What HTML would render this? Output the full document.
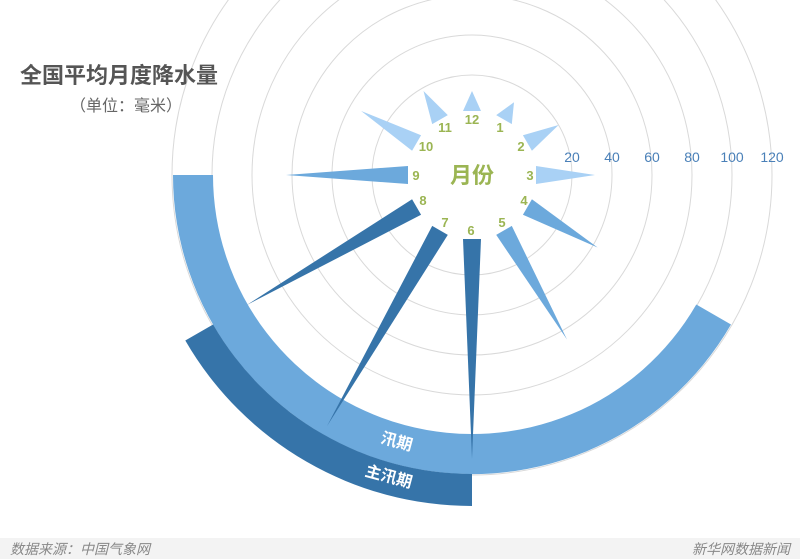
<!DOCTYPE html>
<html><head><meta charset="utf-8"><style>
html,body{margin:0;padding:0;background:#fff;width:800px;height:559px;overflow:hidden}
svg{display:block}
text{font-family:"Liberation Sans","Noto Sans CJK SC",sans-serif}
</style></head><body>
<svg width="800" height="559" viewBox="0 0 800 559" xmlns="http://www.w3.org/2000/svg">
<rect width="800" height="559" fill="#fff"/>
<g fill="none" stroke="#d9d9d9" stroke-width="1">
<circle cx="472" cy="175" r="100"/>
<circle cx="472" cy="175" r="140"/>
<circle cx="472" cy="175" r="180"/>
<circle cx="472" cy="175" r="220"/>
<circle cx="472" cy="175" r="260"/>
<circle cx="472" cy="175" r="300"/>
</g>
<!-- bands -->
<path d="M173,175 A299,299 0 0 0 731,324.5 L696.3,304.5 A259,259 0 0 1 213,175 Z" fill="#6ca9dc"/>
<path d="M185.3,340.5 A331,331 0 0 0 472,506 L472,474 A299,299 0 0 1 213.1,324.5 Z" fill="#3674a9"/>
<!-- spokes -->
<g>
<polygon points="463,111 481,111 472,91" fill="#a9d1f5" transform="rotate(0 472 175)"/>
<polygon points="463,111 481,111 472,91" fill="#a9d1f5" transform="rotate(30 472 175)"/>
<polygon points="463,111 481,111 472,75" fill="#a9d1f5" transform="rotate(60 472 175)"/>
<polygon points="463,111 481,111 472,52" fill="#a9d1f5" transform="rotate(90 472 175)"/>
<polygon points="463,111 481,111 472,30" fill="#6ca9dc" transform="rotate(120 472 175)"/>
<polygon points="463,111 481,111 472,-15" fill="#6ca9dc" transform="rotate(150 472 175)"/>
<polygon points="463,111 481,111 472,-109" fill="#3674a9" transform="rotate(180 472 175)"/>
<polygon points="463,111 481,111 472,-115" fill="#3674a9" transform="rotate(210 472 175)"/>
<polygon points="463,111 481,111 472,-85" fill="#3674a9" transform="rotate(240 472 175)"/>
<polygon points="463,111 481,111 472,-11" fill="#6ca9dc" transform="rotate(270 472 175)"/>
<polygon points="463,111 481,111 472,47" fill="#a9d1f5" transform="rotate(300 472 175)"/>
<polygon points="463,111 481,111 472,78" fill="#a9d1f5" transform="rotate(330 472 175)"/>
</g>
<!-- month labels -->
<g fill="#9bb553" font-size="13" font-weight="bold" text-anchor="middle">
<text x="472" y="124">12</text>
<text x="500" y="132">1</text>
<text x="521" y="151">2</text>
<text x="530" y="180">3</text>
<text x="524" y="205">4</text>
<text x="502" y="227">5</text>
<text x="471" y="235">6</text>
<text x="445" y="227">7</text>
<text x="423" y="205">8</text>
<text x="416" y="180">9</text>
<text x="426" y="151">10</text>
<text x="445" y="132">11</text>
</g>
<text x="472" y="183" fill="#9bb553" font-size="22" font-weight="bold" text-anchor="middle">月份</text>
<!-- scale -->
<g fill="#4a80b8" font-size="14" text-anchor="middle">
<text x="572" y="162">20</text>
<text x="612" y="162">40</text>
<text x="652" y="162">60</text>
<text x="692" y="162">80</text>
<text x="732" y="162">100</text>
<text x="772" y="162">120</text>
</g>
<!-- band labels -->
<text x="397" y="447" fill="#fff" font-size="16" font-weight="bold" text-anchor="middle" transform="rotate(15 397 441)">汛期</text>
<text x="389" y="482" fill="#fff" font-size="16" font-weight="bold" text-anchor="middle" transform="rotate(15 389 476)">主汛期</text>
<!-- title -->
<text x="20" y="83" fill="#555" font-size="22" font-weight="bold">全国平均月度降水量</text>
<text x="70" y="111" fill="#666" font-size="16">（单位：毫米）</text>
<!-- footer -->
<rect x="0" y="538" width="800" height="21" fill="#f3f3f3"/>
<text x="10" y="554" fill="#888" font-size="14" font-style="italic">数据来源：中国气象网</text>
<text x="790" y="554" fill="#888" font-size="14" font-style="italic" text-anchor="end">新华网数据新闻</text>
</svg>
</body></html>
